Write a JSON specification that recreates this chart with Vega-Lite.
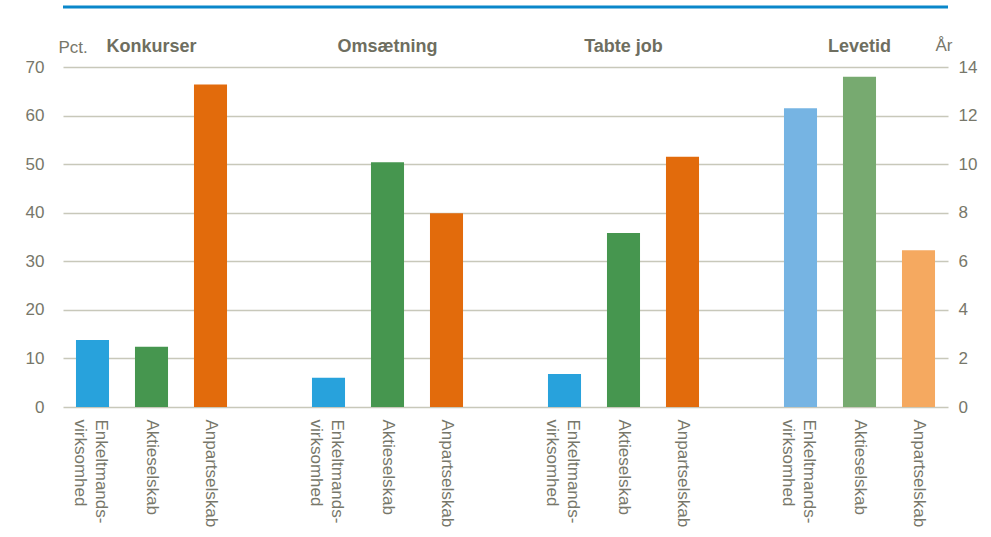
{
  "$schema": "https://vega.github.io/schema/vega-lite/v6.json",
  "width": 885,
  "height": 340,
  "autosize": {"type": "none"},
  "padding": {"left": 63, "top": 67, "right": 43, "bottom": 130},
  "background": "white",
  "config": {
    "view": {"stroke": null},
    "font": "Liberation Sans",
    "axis": {"labelFont": "Liberation Sans", "titleFont": "Liberation Sans"}
  },
  "datasets": {
    "bars": [
      {"group": "Konkurser", "key": "E1", "serie": "Enkeltmandsvirksomhed", "value": 13.8},
      {"group": "Konkurser", "key": "A1", "serie": "Aktieselskab", "value": 12.4},
      {"group": "Konkurser", "key": "P1", "serie": "Anpartselskab", "value": 66.4},
      {"group": "Omsætning", "key": "E2", "serie": "Enkeltmandsvirksomhed", "value": 6.0},
      {"group": "Omsætning", "key": "A2", "serie": "Aktieselskab", "value": 50.4},
      {"group": "Omsætning", "key": "P2", "serie": "Anpartselskab", "value": 39.9},
      {"group": "Tabte job", "key": "E3", "serie": "Enkeltmandsvirksomhed", "value": 6.8},
      {"group": "Tabte job", "key": "A3", "serie": "Aktieselskab", "value": 35.8},
      {"group": "Tabte job", "key": "P3", "serie": "Anpartselskab", "value": 51.5},
      {"group": "Levetid", "key": "E4", "serie": "Enkeltmandsvirksomhed (år)", "value": 12.3},
      {"group": "Levetid", "key": "A4", "serie": "Aktieselskab (år)", "value": 13.6},
      {"group": "Levetid", "key": "P4", "serie": "Anpartselskab (år)", "value": 6.45}
    ],
    "titles": [
      {"key": "A1", "title": "Konkurser"},
      {"key": "A2", "title": "Omsætning"},
      {"key": "A3", "title": "Tabte job"},
      {"key": "A4", "title": "Levetid"}
    ]
  },
  "layer": [
    {
      "data": {"name": "bars"},
      "transform": [{"filter": "datum.group != 'Levetid'"}],
      "mark": {"type": "bar"},
      "encoding": {
        "x": {
          "field": "key", "type": "nominal",
          "scale": {"domain": ["E1","A1","P1","_1","E2","A2","P2","_2","E3","A3","P3","_3","E4","A4","P4"], "paddingInner": 0.44, "paddingOuter": 0.22},
          "axis": {"title": null, "labelAngle": 90, "labelAlign": "left", "labelBaseline": "middle", "labelPadding": 12, "ticks": false, "domain": false, "labelFontSize": 17, "labelLineHeight": 21, "labelColor": "#77776A", "labelOverlap": false,
            "labelOffset": {"condition": {"test": "indexof(datum.value,'E')==0", "value": 8}, "value": 0},
            "labelExpr": "indexof(datum.value,'E')==0 ? ['Enkeltmands-','virksomhed'] : indexof(datum.value,'A')==0 ? 'Aktieselskab' : indexof(datum.value,'P')==0 ? 'Anpartselskab' : ''"}
        },
        "y": {
          "field": "value", "type": "quantitative",
          "scale": {"domain": [0, 70], "nice": false},
          "axis": {"orient": "left", "values": [0,10,20,30,40,50,60,70], "grid": true, "gridColor": "#C8C8BA", "gridWidth": 1.3, "domain": false, "ticks": false, "labelFontSize": 17, "labelColor": "#77776A", "labelPadding": 19,
            "title": "Pct.", "titleAngle": 0, "titleAlign": "left", "titleBaseline": "middle", "titleX": -5, "titleY": -20, "titleFontWeight": "normal", "titleFontSize": 17, "titleColor": "#77776A"}
        },
        "color": {
          "field": "serie", "type": "nominal",
          "scale": {"domain": ["Enkeltmandsvirksomhed","Aktieselskab","Anpartselskab","Enkeltmandsvirksomhed (år)","Aktieselskab (år)","Anpartselskab (år)"],
                    "range": ["#28A2DC","#46964F","#E26B0C","#76B4E3","#77AA70","#F5A960"]},
          "legend": null
        }
      }
    },
    {
      "data": {"name": "bars"},
      "transform": [{"filter": "datum.group == 'Levetid'"}],
      "mark": {"type": "bar"},
      "encoding": {
        "x": {
          "field": "key", "type": "nominal",
          "scale": {"domain": ["E1","A1","P1","_1","E2","A2","P2","_2","E3","A3","P3","_3","E4","A4","P4"], "paddingInner": 0.44, "paddingOuter": 0.22},
          "axis": {"title": null, "labelAngle": 90, "labelAlign": "left", "labelBaseline": "middle", "labelPadding": 12, "ticks": false, "domain": false, "labelFontSize": 17, "labelLineHeight": 21, "labelColor": "#77776A", "labelOverlap": false,
            "labelOffset": {"condition": {"test": "indexof(datum.value,'E')==0", "value": 8}, "value": 0},
            "labelExpr": "indexof(datum.value,'E')==0 ? ['Enkeltmands-','virksomhed'] : indexof(datum.value,'A')==0 ? 'Aktieselskab' : indexof(datum.value,'P')==0 ? 'Anpartselskab' : ''"}
        },
        "y": {
          "field": "value", "type": "quantitative",
          "scale": {"domain": [0, 14], "nice": false},
          "axis": {"orient": "right", "values": [0,2,4,6,8,10,12,14], "grid": false, "domain": false, "ticks": false, "labelFontSize": 17, "labelColor": "#77776A", "labelPadding": 10,
            "title": "År", "titleAngle": 0, "titleAlign": "right", "titleBaseline": "middle", "titleX": 4, "titleY": -22, "titleFontWeight": "normal", "titleFontSize": 17, "titleColor": "#77776A"}
        },
        "color": {
          "field": "serie", "type": "nominal",
          "scale": {"domain": ["Enkeltmandsvirksomhed","Aktieselskab","Anpartselskab","Enkeltmandsvirksomhed (år)","Aktieselskab (år)","Anpartselskab (år)"],
                    "range": ["#28A2DC","#46964F","#E26B0C","#76B4E3","#77AA70","#F5A960"]},
          "legend": null
        }
      }
    },
    {
      "data": {"name": "titles"},
      "mark": {"type": "text", "fontWeight": "bold", "fontSize": 18, "color": "#6E6E60", "dy": -20, "baseline": "middle", "align": "center"},
      "encoding": {
        "x": {
          "field": "key", "type": "nominal",
          "scale": {"domain": ["E1","A1","P1","_1","E2","A2","P2","_2","E3","A3","P3","_3","E4","A4","P4"], "paddingInner": 0.44, "paddingOuter": 0.22},
          "axis": {"title": null, "labelAngle": 90, "labelAlign": "left", "labelBaseline": "middle", "labelPadding": 12, "ticks": false, "domain": false, "labelFontSize": 17, "labelLineHeight": 21, "labelColor": "#77776A", "labelOverlap": false,
            "labelOffset": {"condition": {"test": "indexof(datum.value,'E')==0", "value": 8}, "value": 0},
            "labelExpr": "indexof(datum.value,'E')==0 ? ['Enkeltmands-','virksomhed'] : indexof(datum.value,'A')==0 ? 'Aktieselskab' : indexof(datum.value,'P')==0 ? 'Anpartselskab' : ''"}
        },
        "y": {"datum": 70, "type": "quantitative", "scale": {"domain": [0, 70], "nice": false}, "axis": null},
        "text": {"field": "title"}
      }
    },
    {
      "data": {"values": [{}]},
      "mark": {"type": "rule", "color": "#0A87CA", "strokeWidth": 3},
      "encoding": {
        "y": {"datum": 82.35, "type": "quantitative", "scale": {"domain": [0, 70], "nice": false}, "axis": null}
      }
    }
  ],
  "resolve": {"scale": {"y": "independent"}, "axis": {"y": "independent"}}
}
